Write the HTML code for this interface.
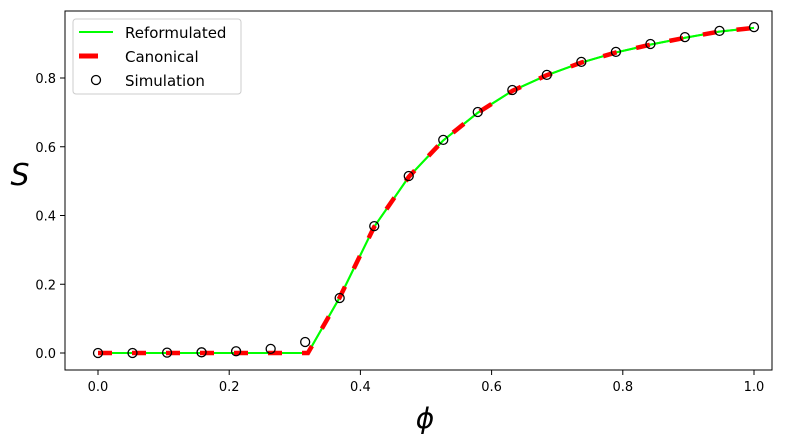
<!DOCTYPE html>
<html><head><meta charset="utf-8"><style>body{margin:0;background:#fff}svg{display:block;font-family:"DejaVu Sans","Liberation Sans",sans-serif}</style></head>
<body>
<svg id="c" width="798" height="448">
<rect x="65" y="11" width="707" height="359" fill="none" stroke="#000" stroke-width="1"/>
<g id="axes"></g>
<g id="marks"></g>
<text x="20" y="185" font-size="30" font-style="italic" text-anchor="middle">S</text>
<text x="425" y="428" font-size="28" font-style="italic" text-anchor="middle">ϕ</text>
<g>
<rect x="73" y="19" width="168" height="75" rx="3" fill="#fff" fill-opacity="0.8" stroke="#ccc"/>
<line x1="79" y1="32" x2="113" y2="32" stroke="#00ff00" stroke-width="2"/>
<text x="125" y="38" font-size="15">Reformulated</text>
<line x1="79" y1="56" x2="98" y2="56" stroke="red" stroke-width="5"/>
<text x="125" y="62" font-size="15">Canonical</text>
<circle cx="96" cy="80" r="4.5" fill="none" stroke="#000" stroke-width="1.3"/>
<text x="125" y="86" font-size="15">Simulation</text>
</g>
</svg>
<script>
const xTicks=[0,0.2,0.4,0.6,0.8,1.0];
const yTicks=[0,0.2,0.4,0.6,0.8];
const curveX=[0,0.32,0.368,0.421,0.474,0.526,0.579,0.632,0.684,0.737,0.789,0.842,0.895,0.947,1];
const curveY=[0,0,0.16,0.367,0.513,0.618,0.699,0.763,0.808,0.845,0.874,0.897,0.917,0.935,0.946];
const simX=[0,0.0526,0.1053,0.1579,0.2105,0.2632,0.3158,0.3684,0.4211,0.4737,0.5263,0.5789,0.6316,0.6842,0.7368,0.7895,0.8421,0.8947,0.9474,1];
const simY=[0,0,0.001,0.002,0.005,0.012,0.032,0.16,0.369,0.515,0.62,0.701,0.765,0.809,0.847,0.876,0.899,0.919,0.937,0.948];
const X=v=>98+v*656, Y=v=>353-v*343.75;
const NS='http://www.w3.org/2000/svg';
const ax=document.getElementById('axes'), mk=document.getElementById('marks');
function el(t,a,p){const e=document.createElementNS(NS,t);for(const k in a)e.setAttribute(k,a[k]);p.appendChild(e);return e;}
xTicks.forEach(v=>{
 const l=el('line',{x1:X(v),x2:X(v),y1:370,y2:375,stroke:'#000'},ax);
 
 
 const t=el('text',{x:X(v),y:391,'font-size':13,'text-anchor':'middle'},ax);t.textContent=v.toFixed(1);
 
 
});
yTicks.forEach(v=>{
 const l=el('line',{x1:60,x2:65,y1:Y(v),y2:Y(v),stroke:'#000'},ax);
 
 
 const t=el('text',{x:56,y:Y(v)+5,'font-size':13,'text-anchor':'end'},ax);t.textContent=v.toFixed(1);
 
 
});
const pts=curveX.map((x,i)=>X(x)+','+Y(curveY[i])).join(' ');
const g=el('polyline',{points:pts,fill:'none',stroke:'#00ff00','stroke-width':2},mk);


const r=el('polyline',{points:pts,fill:'none',stroke:'red','stroke-width':4.5,'stroke-dasharray':'14 20'},mk);


const g2=el('polyline',{points:pts,fill:'none',stroke:'#00ff00','stroke-width':2,'stroke-dasharray':'0 14 20 0'},mk);


simX.forEach((x,i)=>{
 const c=el('circle',{cx:X(x),cy:Y(simY[i]),r:4.5,fill:'none',stroke:'#000','stroke-width':1.3},mk);
 
 
});
</script>
</body></html>
